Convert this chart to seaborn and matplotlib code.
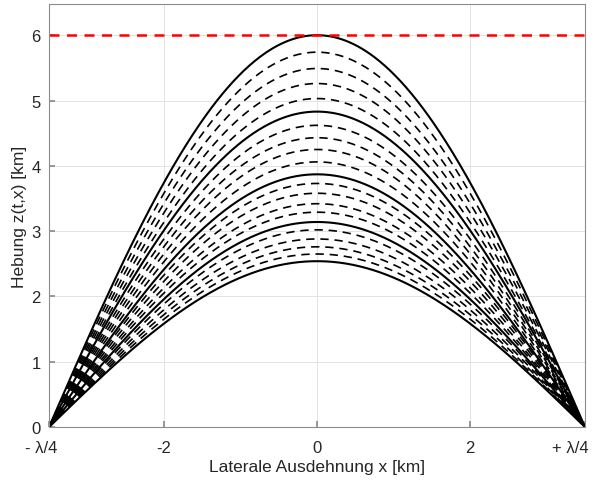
import numpy as np
import pandas as pd
import matplotlib
matplotlib.use("Agg")
import matplotlib.pyplot as plt
import matplotlib.transforms as mtransforms
import seaborn as sns

# Wellenlaenge der Falte [km]
wavelength = 14.0

# Scheitelhoehen der Kurven [km], oben nach unten (jede 5. durchgezogen)
amplitudes = [6.00, 5.74, 5.49, 5.26, 5.03,
              4.83, 4.62, 4.43, 4.25, 4.06,
              3.87, 3.73, 3.58, 3.42, 3.29,
              3.14, 3.02, 2.88, 2.76, 2.65,
              2.54]
max_height = 6.0

x_ticks = [-wavelength / 4, -2, 0, 2, wavelength / 4]
x_ticklabels = ["- λ/4", "-2", "0", "2", "+ λ/4"]
y_ticks = [0, 1, 2, 3, 4, 5, 6]

sns.set_theme(style="whitegrid")
plt.rcParams["font.family"] = ["Liberation Sans", "DejaVu Sans"]

x = np.linspace(-wavelength / 4, wavelength / 4, 400)
rows = []
for i, a in enumerate(amplitudes):
    rows.append(pd.DataFrame({"x": x, "z": a * np.cos(2 * np.pi * x / wavelength), "curve": i}))
df = pd.concat(rows, ignore_index=True)

fig = plt.figure(figsize=(6.02, 4.81), dpi=100)
ax = fig.add_axes([0.0814, 0.110, 0.8904, 0.8786])

for i, a in enumerate(amplitudes):
    sub = df[df["curve"] == i]
    if i % 5 == 0:
        sns.lineplot(data=sub, x="x", y="z", ax=ax, color="black", lw=1.5,
                     linestyle="-", estimator=None, sort=False)
    else:
        sns.lineplot(data=sub, x="x", y="z", ax=ax, color="black", lw=1.2,
                     linestyle=(0, (5, 3.5)), estimator=None, sort=False)

ax.axhline(max_height, color="#ff0000", lw=1.8, linestyle=(0, (4, 3)))

ax.set_xlim(-wavelength / 4, wavelength / 4)
ax.set_ylim(0, 6.47)
ax.set_xticks(x_ticks)
ax.set_xticklabels(x_ticklabels)
ax.set_yticks(y_ticks)

ax.grid(True, color="#e3e3e3", lw=0.7)
for s in ax.spines.values():
    s.set_color("#8c8c8c")
    s.set_linewidth(0.8)
ax.tick_params(axis="both", direction="in", length=4, color="#8c8c8c",
               labelsize=12, labelcolor="#262626", bottom=True, left=True)
ax.tick_params(axis="x", pad=9)
ax.tick_params(axis="y", pad=6)

# Randbeschriftungen etwas nach links versetzt wie im Original
labels = ax.get_xticklabels()
labels[0].set_transform(labels[0].get_transform() +
                        mtransforms.ScaledTranslation(-8 / 100, 0, fig.dpi_scale_trans))
labels[-1].set_transform(labels[-1].get_transform() +
                         mtransforms.ScaledTranslation(-15 / 100, 0, fig.dpi_scale_trans))

ax.set_xlabel("Laterale Ausdehnung x [km]", fontsize=12.5, color="#262626", labelpad=3)
ax.set_ylabel("Hebung z(t,x) [km]", fontsize=12.5, color="#262626", labelpad=3)

fig.savefig("out.png", dpi=100)
